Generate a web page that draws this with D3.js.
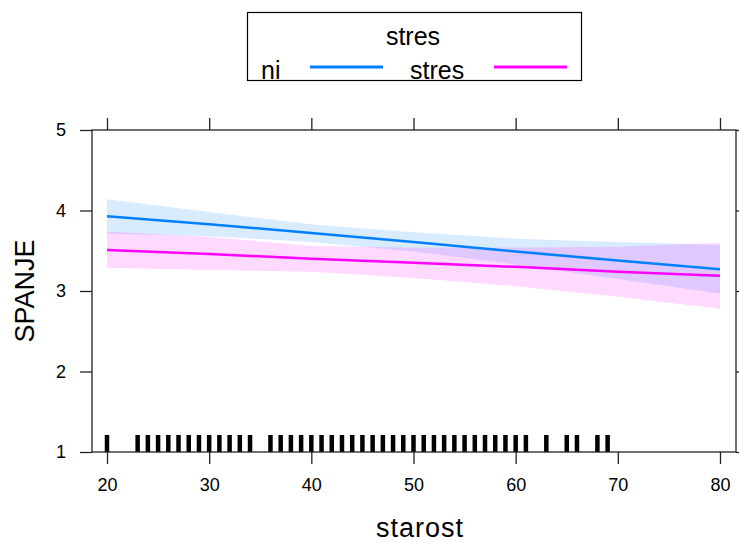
<!DOCTYPE html>
<html><head><meta charset="utf-8">
<script src="https://cdn.jsdelivr.net/npm/d3@7"></script>
<style>body{margin:0;background:#fff}svg{display:block}text{font-family:"Liberation Sans",Arial,sans-serif;fill:#000}</style>
</head><body>
<script>
const ages = [20, 30, 40, 50, 60, 70, 80];
const niFit = [3.93, 3.83, 3.72, 3.61, 3.49, 3.38, 3.27];
const niLower = [3.71, 3.68, 3.61, 3.49, 3.33, 3.15, 2.97];
const niUpper = [4.14, 3.98, 3.83, 3.73, 3.65, 3.61, 3.57];
const stresFit = [3.51, 3.46, 3.40, 3.35, 3.30, 3.24, 3.19];
const stresLower = [3.29, 3.26, 3.24, 3.16, 3.06, 2.93, 2.78];
const stresUpper = [3.74, 3.67, 3.56, 3.54, 3.54, 3.55, 3.60];
const rugAges = [20, 23,24,25,26,27,28,29,30,31,32,33,34,36,37,38,39,40,41,42,43,44,45,46,47,48,49,50,51,52,53,54,55,56,57,58,59,60,61,63,65,66,68,69];
const xTicks = [20, 30, 40, 50, 60, 70, 80];
const yTicks = [1, 2, 3, 4, 5];
const seriesNames = ["ni", "stres"];
const seriesColors = ["#0080ff", "#ff00ff"];

const W = 739, H = 543;
const L = 92, R = 736, T = 130, B = 452;
const svg = d3.select("body").append("svg").attr("width", W).attr("height", H);
const x = d3.scaleLinear().domain([20, 80]).range([107, 720]);
const y = d3.scaleLinear().domain([1, 5]).range([B, T]);

const series = [
  {name: seriesNames[0], color: seriesColors[0], fit: niFit, lo: niLower, hi: niUpper},
  {name: seriesNames[1], color: seriesColors[1], fit: stresFit, lo: stresLower, hi: stresUpper}
];

const area = d3.area().x((d,i) => x(ages[i])).y0(d => y(d[0])).y1(d => y(d[1]));
const line = d3.line().x((d,i) => x(ages[i])).y(d => y(d));

series.forEach(s => {
  svg.append("path").datum(s.lo.map((v,i) => [v, s.hi[i]]))
    .attr("d", area).attr("fill", s.color).attr("fill-opacity", 0.15);
});
series.forEach(s => {
  svg.append("path").datum(s.fit).attr("d", line)
    .attr("fill", "none").attr("stroke", s.color).attr("stroke-width", 2.5);
});

// rug
svg.append("g").selectAll("line").data(rugAges).join("line")
  .attr("x1", d => x(d)).attr("x2", d => x(d))
  .attr("y1", B - 17).attr("y2", B)
  .attr("stroke", "#000").attr("stroke-width", 4.5);

// panel border
svg.append("rect").attr("x", L).attr("y", T).attr("width", R - L).attr("height", B - T)
  .attr("fill", "none").attr("stroke", "#222").attr("stroke-width", 1.3);

// axes
const fmt = d3.format("d");
const axB = d3.axisBottom(x).tickValues(xTicks).tickSize(12).tickPadding(14).tickFormat(fmt);
const gB = svg.append("g").attr("transform", `translate(0,${B})`).call(axB);
const axT = d3.axisTop(x).tickValues(xTicks).tickSize(12).tickFormat("");
const gT = svg.append("g").attr("transform", `translate(0,${T})`).call(axT);
const axL = d3.axisLeft(y).tickValues(yTicks).tickSize(12).tickPadding(14).tickFormat(fmt);
const gL = svg.append("g").attr("transform", `translate(${L},0)`).call(axL);
const axR = d3.axisRight(y).tickValues(yTicks).tickSize(12).tickFormat("");
const gR = svg.append("g").attr("transform", `translate(${R},0)`).call(axR);
[gB, gT, gL, gR].forEach(g => {
  g.select(".domain").remove();
  g.selectAll(".tick line").attr("stroke", "#222").attr("stroke-width", 1.3);
  g.selectAll("text").style("font-size", "18px").attr("fill", "#000");
});

svg.append("text").attr("x", 420).attr("y", 537).attr("text-anchor", "middle")
  .style("font-size", "27px").style("letter-spacing", "1px").text("starost");
svg.append("text").attr("transform", `translate(34,${(T + B) / 2}) rotate(-90)`)
  .attr("text-anchor", "middle").style("font-size", "27px").text("SPANJE");

// legend
const lg = svg.append("g");
lg.append("rect").attr("x", 247.5).attr("y", 12.5).attr("width", 334).attr("height", 68)
  .attr("fill", "#fff").attr("stroke", "#000").attr("stroke-width", 1.2);
lg.append("text").attr("x", 413).attr("y", 45).attr("text-anchor", "middle")
  .style("font-size", "25px").text("stres");
const itemX = [261, 410];
const lineX = [[310, 383], [494, 567]];
series.forEach((s, i) => {
  lg.append("text").attr("x", itemX[i]).attr("y", 79).style("font-size", "25px").text(s.name);
  lg.append("line").attr("x1", lineX[i][0]).attr("x2", lineX[i][1]).attr("y1", 67).attr("y2", 67)
    .attr("stroke", s.color).attr("stroke-width", 3);
});
</script>
</body></html>
